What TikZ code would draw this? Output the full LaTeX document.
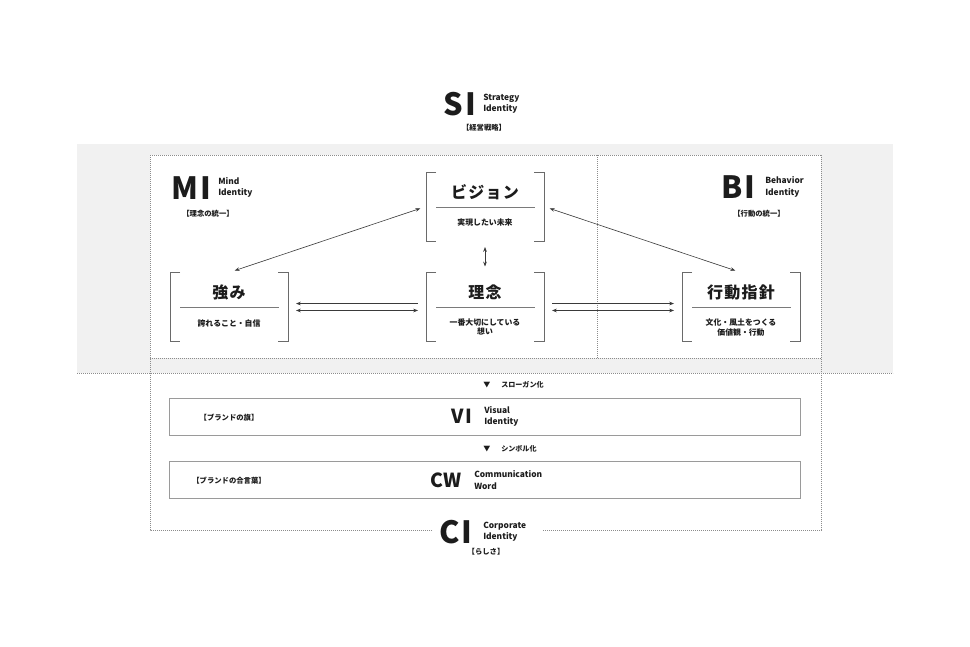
\documentclass[tikz,border=0pt]{standalone}
\usepackage{fontspec}
\setmainfont{Noto Sans CJK JP}
\usetikzlibrary{arrows.meta,calc}
\definecolor{bggray}{HTML}{F1F1F1}
\definecolor{dotgray}{HTML}{8C8C8C}
\definecolor{brk}{HTML}{6A6A6A}
\definecolor{sepc}{HTML}{7A7A7A}
\definecolor{arrc}{HTML}{3A3A3A}
\definecolor{txt}{HTML}{1C1C1C}
\definecolor{bandc}{HTML}{9A9A9A}
\begin{document}
\begin{tikzpicture}[x=0.75pt,y=-0.75pt,
  dotline/.style={draw=dotgray,line width=0.6pt,dash pattern=on 0.6pt off 0.9pt},
  bbox/.style={minimum width=88.5pt,minimum height=51.75pt,inner sep=0pt,outer sep=0pt},
  bracketline/.style={draw=brk,line width=0.7pt},
  sepline/.style={draw=sepc,line width=0.6pt},
  arr/.style={draw=arrc,line width=0.45pt,shorten <=4.5pt,shorten >=4.5pt},
  both/.style={arr,{Stealth[length=3.6pt,width=2.7pt]}-{Stealth[length=3.6pt,width=2.7pt]}},
  tohead/.style={arr,-{Stealth[length=3.6pt,width=2.7pt]}},
  big/.style={inner sep=0pt,text=txt,font=\fontsize{23pt}{23pt}\selectfont\bfseries\addfontfeature{LetterSpace=6}},
  mid/.style={inner sep=0pt,text=txt,font=\fontsize{14.5pt}{14.5pt}\selectfont\bfseries\addfontfeature{LetterSpace=5}},
  eng/.style={inner sep=0pt,text=txt,align=left,anchor=west,font=\fontsize{6.3pt}{8.5pt}\selectfont\bfseries},
  lab/.style={inner sep=0pt,text=txt,font=\fontsize{5.5pt}{6.5pt}\selectfont\bfseries},
  title/.style={inner sep=0pt,text=txt,font=\fontsize{12pt}{12pt}\selectfont\bfseries\addfontfeature{LetterSpace=8}},
  subt/.style={inner sep=0pt,text=txt,align=center,font=\fontsize{5.9pt}{7pt}\selectfont\bfseries},
  step-note/.style={inner sep=0pt,text=txt,font=\fontsize{5.3pt}{6pt}\selectfont\bfseries},
  bandbox/.style={draw=bandc,line width=0.65pt,minimum width=473.25pt,minimum height=27.75pt,inner sep=0pt}]
\useasboundingbox (0,0) rectangle (970,646);
% background band
\fill[bggray] (77,144) rectangle (893,373);
\fill[white] (150,155) rectangle (821,358);
\draw[dotline] (150,155) -- (821,155);
\draw[dotline] (150,358) -- (821,358);
\draw[dotline] (77,373) -- (893,373);
\draw[dotline] (597,155) -- (597,358);
\draw[dotline] (432,530) -- (150,530) -- (150,155);
\draw[dotline] (543,530) -- (821,530) -- (821,155);
% SI
\node[big] (si) at (460,104) {SI};
\node[eng] (sisub) at (483,103.5) {Strategy\\Identity};
\node[lab] (silab) at (484,128) {【経営戦略】};
% MI
\node[big] (mi) at (191,188) {MI};
\node[eng] (misub) at (218,187.5) {Mind\\Identity};
\node[lab] (milab) at (208,214) {【理念の統一】};
% BI
\node[big] (bi) at (738.5,187) {BI};
\node[eng] (bisub) at (765,187) {Behavior\\Identity};
\node[lab] (bilab) at (759,214) {【行動の統一】};
% boxes
\node[bbox] (vision) at (485,206.5) {};
\node[bbox] (strength) at (229,307) {};
\node[bbox] (rinen) at (485,307) {};
\node[bbox] (koudou) at (741,307) {};
\foreach \n in {vision,strength,rinen,koudou}{
  \draw[bracketline] ($(\n.north west)+(10,0)$) -- (\n.north west) -- (\n.south west) -- ($(\n.south west)+(10,0)$);
  \draw[bracketline] ($(\n.north east)+(-10,0)$) -- (\n.north east) -- (\n.south east) -- ($(\n.south east)+(-10,0)$);
  \draw[sepline] ($(\n.west)+(10,0.5)$) -- ($(\n.east)+(-9,0.5)$);
}
\node[title] (vision-t) at ($(vision.center)+(0,-14)$) {ビジョン};
\node[subt] (vision-s) at ($(vision.center)+(0,16.5)$) {実現したい未来};
\node[title] (strength-t) at ($(strength.center)+(0,-15)$) {強み};
\node[subt] (strength-s) at ($(strength.center)+(0,16)$) {誇れること・自信};
\node[title] (rinen-t) at ($(rinen.center)+(0,-15)$) {理念};
\node[subt] (rinen-s) at ($(rinen.center)+(0,20)$) {一番大切にしている\\想い};
\node[title] (koudou-t) at ($(koudou.center)+(0,-15)$) {行動指針};
\node[subt] (koudou-s) at ($(koudou.center)+(0,20.5)$) {文化・風土をつくる\\価値観・行動};
% connectors
\draw[both] (vision.west) -- (strength.north);
\draw[both] (vision.east) -- (koudou.north);
\draw[both] (vision.south) -- (rinen.north);
\draw[arr,shorten <=6pt,shorten >=6pt,{Stealth[length=3.6pt,width=2.7pt]}-] ([yshift=2.6pt]strength.east) -- ([yshift=2.6pt]rinen.west);
\draw[both,shorten <=6pt,shorten >=6pt] ([yshift=-2.6pt]strength.east) -- ([yshift=-2.6pt]rinen.west);
\draw[tohead,shorten <=6pt,shorten >=6pt] ([yshift=2.6pt]rinen.east) -- ([yshift=2.6pt]koudou.west);
\draw[both,shorten <=6pt,shorten >=6pt] ([yshift=-2.6pt]rinen.east) -- ([yshift=-2.6pt]koudou.west);
% lower part
\node[step-note] (tri1) at (487,385) {▼};
\node[step-note,anchor=west] (slogan) at (501,385) {スローガン化};
\node[bandbox] (vibox) at (484.5,416.5) {};
\node[lab] (vilab) at (229,418) {【ブランドの旗】};
\node[mid] (vi) at (462,416.5) {VI};
\node[eng] (visub) at (484,416.5) {Visual\\Identity};
\node[step-note] (tri2) at (487,449) {▼};
\node[step-note,anchor=west] (symbol) at (501,449) {シンボル化};
\node[bandbox] (cwbox) at (484.5,479.5) {};
\node[lab] (cwlab) at (229,480.5) {【ブランドの合言葉】};
\node[mid] (cw) at (446,480) {CW};
\node[eng] (cwsub) at (474,480) {Communication\\Word};
% CI
\node[big] (ci) at (456,532) {CI};
\node[eng] (cisub) at (483,531.5) {Corporate\\Identity};
\node[lab] (cilab) at (486,552) {【らしさ】};
\end{tikzpicture}
\end{document}
